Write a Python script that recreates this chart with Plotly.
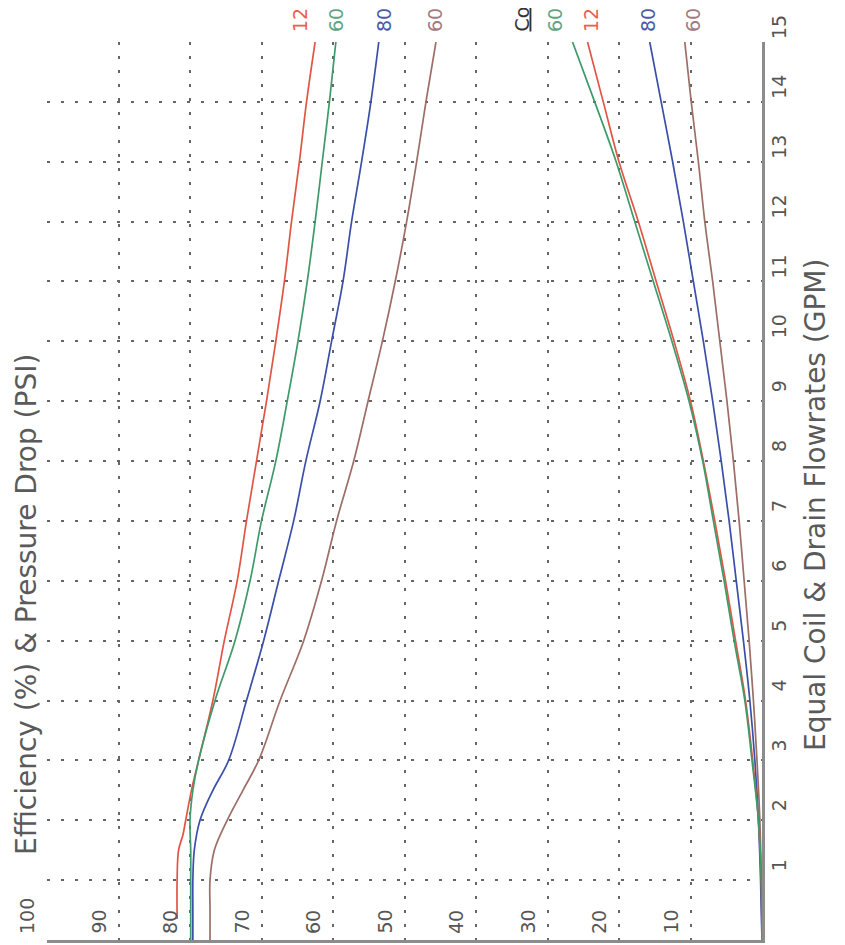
import plotly.graph_objects as go

# ---------------- data ----------------
# Efficiency curves (%), flowrate (GPM)
eff_flow = [0, 0.5, 1, 1.5, 2, 2.5, 3, 4, 5, 6, 7, 8, 9, 10, 11, 12, 13, 14, 15]
eff_red_flow = [0.35, 1, 1.5, 1.75, 2, 2.5, 3, 4, 5, 6, 7, 8, 9, 10, 11, 12, 13, 14, 15]
eff_red = [81.8, 81.8, 81.6, 81.0, 80.6, 79.8, 78.8, 76.8, 75.2, 73.4, 72.1, 70.7,
           69.3, 68.0, 66.8, 65.8, 64.7, 63.7, 62.5]
eff_green = [79.9, 79.9, 79.9, 79.9, 80.0, 79.6, 78.8, 76.5, 73.7, 71.6, 70.0, 68.0,
             66.4, 64.9, 63.6, 62.5, 61.5, 60.5, 59.6]
eff_blue = [79.6, 79.6, 79.6, 79.4, 78.6, 76.8, 74.6, 72.1, 69.7, 67.6, 65.5, 63.8,
            61.8, 60.2, 58.6, 57.4, 56.0, 54.7, 53.6]
eff_brown = [77.2, 77.2, 77.2, 76.6, 74.8, 72.6, 70.4, 67.4, 64.1, 61.6, 59.5, 57.1,
             55.1, 53.1, 51.3, 49.7, 48.3, 47.0, 45.6]

# Pressure drop curves (PSI)
dp_flow = [0, 1, 2, 3, 4, 5, 6, 7, 8, 9, 10, 11, 12, 13, 14, 15]
dp_green = [0.0, 0.1, 0.5, 1.4, 2.4, 3.9, 5.3, 6.8, 8.3, 10.2, 12.6, 15.2, 17.8, 20.4, 23.4, 26.5]
dp_red = [0.0, 0.1, 0.5, 1.3, 2.3, 3.7, 5.1, 6.6, 8.2, 10.0, 12.3, 14.8, 17.3, 20.0, 22.2, 24.4]
dp_blue = [0.0, 0.2, 0.5, 1.0, 1.7, 2.6, 3.6, 4.6, 5.7, 6.9, 8.2, 9.6, 11.0, 12.5, 14.1, 15.7]
dp_brown = [0.0, 0.1, 0.3, 0.7, 1.2, 1.8, 2.5, 3.2, 4.0, 4.9, 5.9, 6.9, 8.0, 8.9, 9.9, 10.8]

value_ticks = [100, 90, 80, 70, 60, 50, 40, 30, 20, 10]
value_labels = ["100", "90", "80", "70", "60", "50", "40", "30", "20", "10"]
flow_ticks = list(range(1, 16))
flow_labels = [str(v) for v in flow_ticks]

top_labels = ["12", "60", "80", "60", "<u>Co</u>", "60", "12", "80", "60"]
top_label_colors = ["#e8604f", "#5fa383", "#4a5aa6", "#a27a80", "#333333",
                    "#5fa383", "#e8604f", "#4a5aa6", "#a27a80"]
top_label_px = [300, 336, 384, 435, 521, 555, 591, 648, 693]

x_title = "Equal Coil & Drain Flowrates (GPM)"
y_title = "Efficiency (%) & Pressure Drop (PSI)"

RED, GREEN, BLUE, BROWN = "#e05545", "#3f9a6a", "#3a4fa8", "#9c6e66"

# ---------------- figure ----------------
fig = go.Figure()
series = [
    (eff_red, eff_red_flow, RED),
    (eff_green, eff_flow, GREEN),
    (eff_blue, eff_flow, BLUE),
    (eff_brown, eff_flow, BROWN),
    (dp_brown, dp_flow, BROWN),
    (dp_blue, dp_flow, BLUE),
    (dp_red, dp_flow, RED),
    (dp_green, dp_flow, GREEN),
]
for vals, flows, col in series:
    fig.add_trace(go.Scatter(x=vals, y=flows, mode="lines",
                             line=dict(color=col, width=1.7, shape="spline", smoothing=1.0),
                             showlegend=False, hoverinfo="skip"))

# page body has an 8px default margin: compensate so the plot area lands where intended
OFF = 8
W, H = 845 - OFF, 945 - OFF
L, T = 47 - OFF, 42 - OFF
R, B = 83, 5
PLOT_L, PLOT_R = 47, 762
pw = PLOT_R - PLOT_L

fig.update_layout(
    width=W, height=H,
    margin=dict(l=L, r=R, t=T, b=B, pad=0),
    paper_bgcolor="white", plot_bgcolor="white",
    xaxis=dict(range=[100, 0], tickvals=value_ticks, showticklabels=False, ticks="",
               showgrid=True, gridcolor="#666666", gridwidth=1.8, griddash="3px,11px",
               zeroline=False, showline=True, linecolor="#8c8c8c", linewidth=2.5),
    yaxis=dict(range=[0, 15], side="right", tickvals=flow_ticks, showticklabels=False, ticks="",
               showgrid=True, gridcolor="#666666", gridwidth=1.8, griddash="3px,11px",
               zeroline=False, showline=True, linecolor="#8c8c8c", linewidth=3),
)

ann = []
tick_font = dict(family="DejaVu Sans", size=19, color="#555555")
for v, t in zip(value_ticks, value_labels):
    ann.append(dict(x=v, xref="x", y=0, yref="y", text=t, showarrow=False, textangle=-90,
                    xanchor="center", yanchor="bottom", xshift=-20, yshift=4, font=tick_font))
for f, t in zip(flow_ticks, flow_labels):
    ann.append(dict(x=1, xref="paper", y=f, yref="y", text=t, showarrow=False, textangle=-90,
                    xanchor="center", yanchor="middle", xshift=17, yshift=15, font=tick_font))

title_font = dict(family="DejaVu Sans", size=28, color="#5a5a5a")
ann.append(dict(x=0, xref="paper", y=(940 - 605) / 898, yref="paper", text=y_title,
                showarrow=False, textangle=-90, xanchor="center", yanchor="middle",
                xshift=-21, font=title_font))
ann.append(dict(x=1, xref="paper", y=(940 - 505) / 898, yref="paper", text=x_title,
                showarrow=False, textangle=-90, xanchor="center", yanchor="middle",
                xshift=54, font=title_font))

for t, c, px in zip(top_labels, top_label_colors, top_label_px):
    ann.append(dict(x=(px - PLOT_L) / pw, xref="paper", y=1, yref="paper", text=t,
                    showarrow=False, textangle=-90, xanchor="center", yanchor="bottom",
                    yshift=8, font=dict(family="DejaVu Sans", size=19, color=c)))

fig.update_layout(annotations=ann)
fig.write_html("out.html")
